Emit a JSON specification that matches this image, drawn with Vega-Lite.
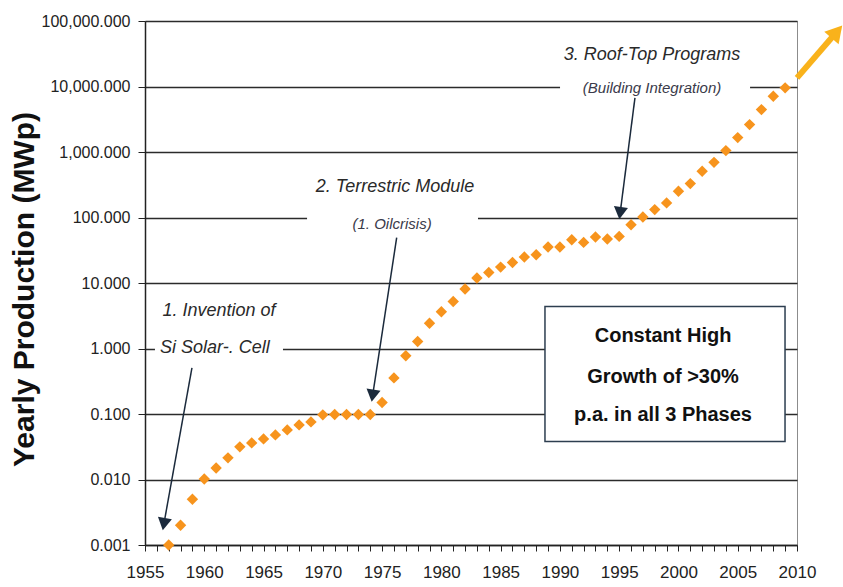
{
  "$schema": "https://vega.github.io/schema/vega-lite/v6.json",
  "width": 652,
  "height": 524,
  "autosize": "none",
  "padding": {"left": 145, "top": 21, "right": 46, "bottom": 42},
  "background": "white",
  "config": {
    "font": "Liberation Sans",
    "view": {"stroke": "#8c8c8c", "strokeWidth": 1}
  },
  "datasets": {
    "pv": [
      {"year": 1957, "mwp": 0.001}, {"year": 1958, "mwp": 0.002}, {"year": 1959, "mwp": 0.005},
      {"year": 1960, "mwp": 0.0102}, {"year": 1961, "mwp": 0.015}, {"year": 1962, "mwp": 0.0214},
      {"year": 1963, "mwp": 0.0315}, {"year": 1964, "mwp": 0.0362}, {"year": 1965, "mwp": 0.0417},
      {"year": 1966, "mwp": 0.048}, {"year": 1967, "mwp": 0.0572}, {"year": 1968, "mwp": 0.0682},
      {"year": 1969, "mwp": 0.0758}, {"year": 1970, "mwp": 0.097}, {"year": 1971, "mwp": 0.098},
      {"year": 1972, "mwp": 0.098}, {"year": 1973, "mwp": 0.098}, {"year": 1974, "mwp": 0.098},
      {"year": 1975, "mwp": 0.15}, {"year": 1976, "mwp": 0.356}, {"year": 1977, "mwp": 0.773},
      {"year": 1978, "mwp": 1.28}, {"year": 1979, "mwp": 2.43}, {"year": 1980, "mwp": 3.64},
      {"year": 1981, "mwp": 5.23}, {"year": 1982, "mwp": 8.09}, {"year": 1983, "mwp": 11.9},
      {"year": 1984, "mwp": 14.5}, {"year": 1985, "mwp": 17.5}, {"year": 1986, "mwp": 20.6},
      {"year": 1987, "mwp": 24.9}, {"year": 1988, "mwp": 27.0}, {"year": 1989, "mwp": 35.5},
      {"year": 1990, "mwp": 35.5}, {"year": 1991, "mwp": 45.8}, {"year": 1992, "mwp": 41.7},
      {"year": 1993, "mwp": 50.4}, {"year": 1994, "mwp": 47.0}, {"year": 1995, "mwp": 51.5},
      {"year": 1996, "mwp": 77.7}, {"year": 1997, "mwp": 102}, {"year": 1998, "mwp": 132},
      {"year": 1999, "mwp": 167}, {"year": 2000, "mwp": 251}, {"year": 2001, "mwp": 329},
      {"year": 2002, "mwp": 507}, {"year": 2003, "mwp": 695}, {"year": 2004, "mwp": 1050},
      {"year": 2005, "mwp": 1660}, {"year": 2006, "mwp": 2620}, {"year": 2007, "mwp": 4440},
      {"year": 2008, "mwp": 7100}, {"year": 2009, "mwp": 9530}
    ],
    "blanks": [
      {"x1": 1955.84, "x2": 1966.64, "y1": 0.626, "y2": 6.61},
      {"x1": 1968.67, "x2": 1983.09, "y1": 45.8, "y2": 537.9},
      {"x1": 1990.01, "x2": 2006.04, "y1": 5300, "y2": 69100}
    ],
    "frame": [
      {"x1": 1988.74, "x2": 2008.99, "y1": 0.0379, "y2": 4.38}
    ],
    "arrows": [
      {"id": "a1", "x1": 1958.96, "y1": 0.507, "x2": 1956.59, "y2": 0.002085},
      {"id": "a2", "x1": 1976.23, "y1": 49.2, "x2": 1974.20, "y2": 0.1905},
      {"id": "a3", "x1": 1996.33, "y1": 6700, "x2": 1995.08, "y2": 116.8},
      {"id": "g", "x1": 2010, "y1": 13550, "x2": 2013.36, "y2": 68400}
    ],
    "notes": [
      {"grp": "big", "x": 1961.24, "y": 3.77, "text": "1. Invention of"},
      {"grp": "big", "x": 1960.9, "y": 1.02, "text": "Si Solar-. Cell"},
      {"grp": "big", "x": 1976.09, "y": 296, "text": "2. Terrestric Module"},
      {"grp": "small", "x": 1975.84, "y": 80.4, "text": "(1. Oilcrisis)"},
      {"grp": "big", "x": 1997.77, "y": 30760, "text": "3. Roof-Top Programs"},
      {"grp": "small", "x": 1997.77, "y": 9634, "text": "(Building Integration)"},
      {"grp": "box", "x": 1998.7, "y": 1.525, "text": "Constant High"},
      {"grp": "box", "x": 1998.7, "y": 0.373, "text": "Growth of >30%"},
      {"grp": "box", "x": 1998.7, "y": 0.097, "text": "p.a. in all 3 Phases"}
    ]
  },
  "layer": [
    {
      "data": {"name": "pv"},
      "mark": {"type": "point", "shape": "diamond", "filled": true, "color": "#F7941D", "size": 0, "opacity": 0},
      "encoding": {
        "x": {
          "field": "year", "type": "quantitative", "title": null,
          "scale": {"domain": [1955, 2010], "nice": false, "zero": false},
          "axis": {
            "title": null,
            "values": [1955,1956,1957,1958,1959,1960,1961,1962,1963,1964,1965,1966,1967,1968,1969,1970,1971,1972,1973,1974,1975,1976,1977,1978,1979,1980,1981,1982,1983,1984,1985,1986,1987,1988,1989,1990,1991,1992,1993,1994,1995,1996,1997,1998,1999,2000,2001,2002,2003,2004,2005,2006,2007,2008,2009,2010],
            "tickCount": 100,
            "format": "d",
            "labelExpr": "datum.value % 5 === 0 ? datum.label : ''",
            "labelFlush": false,
            "labelBound": false,
            "labelOverlap": false,
            "labelDx": 6,
            "labelPadding": 13,
            "labelFontSize": 17,
            "labelColor": "#222222",
            "grid": false,
            "tickSize": 6,
            "tickColor": "#222222",
            "tickWidth": 1,
            "domainColor": "#222222",
            "domainWidth": 1.5
          }
        },
        "y": {
          "field": "mwp", "type": "quantitative", "title": "Yearly Production (MWp)",
          "scale": {"type": "log", "domain": [0.001, 100000], "nice": false},
          "axis": {
            "title": "Yearly Production (MWp)",
            "values": [0.001, 0.01, 0.1, 1, 10, 100, 1000, 10000, 100000],
            "tickCount": 20,
            "format": ",.3f",
            "grid": true,
            "gridColor": "#2b2b2b",
            "gridWidth": 1.5,
            "gridOpacity": 1,
            "tickSize": 7,
            "tickColor": "#222222",
            "domainColor": "#222222",
            "domainWidth": 1.5,
            "labelFontSize": 16,
            "labelColor": "#222222",
            "labelPadding": 8,
            "titleFontSize": 30,
            "titleFontWeight": "bold",
            "titleColor": "#111111",
            "titleAngle": -90,
            "titleAlign": "center",
            "titleBaseline": "middle",
            "titleX": -121,
            "titleY": 268
          }
        }
      }
    },
    {
      "data": {"name": "blanks"},
      "mark": {"type": "rect", "fill": "white", "strokeWidth": 0},
      "encoding": {
        "x": {"field": "x1", "type": "quantitative", "title": null},
        "x2": {"field": "x2", "title": null},
        "y": {"field": "y1", "type": "quantitative", "title": "Yearly Production (MWp)"},
        "y2": {"field": "y2", "title": "Yearly Production (MWp)"}
      }
    },
    {
      "data": {"name": "pv"},
      "mark": {"type": "point", "shape": "diamond", "filled": true, "color": "#F7941D", "size": 130, "opacity": 1},
      "encoding": {
        "x": {"field": "year", "type": "quantitative", "title": null},
        "y": {"field": "mwp", "type": "quantitative", "title": "Yearly Production (MWp)"}
      }
    },
    {
      "data": {"name": "arrows"},
      "transform": [{"filter": "datum.id !== 'g'"}],
      "mark": {"type": "rule", "color": "#1b2a3c", "strokeWidth": 1.5},
      "encoding": {
        "x": {"field": "x1", "type": "quantitative", "title": null},
        "x2": {"field": "x2", "title": null},
        "y": {"field": "y1", "type": "quantitative", "title": "Yearly Production (MWp)"},
        "y2": {"field": "y2", "title": "Yearly Production (MWp)"}
      }
    },
    {
      "data": {"name": "arrows"},
      "transform": [{"filter": "datum.id === 'a1'"}],
      "mark": {"type": "point", "shape": "triangle-up", "filled": true, "color": "#1b2a3c", "size": 200, "opacity": 1, "angle": 190},
      "encoding": {
        "x": {"field": "x2", "type": "quantitative", "title": null},
        "y": {"field": "y2", "type": "quantitative", "title": "Yearly Production (MWp)"}
      }
    },
    {
      "data": {"name": "arrows"},
      "transform": [{"filter": "datum.id === 'a2'"}],
      "mark": {"type": "point", "shape": "triangle-up", "filled": true, "color": "#1b2a3c", "size": 200, "opacity": 1, "angle": 188.7},
      "encoding": {
        "x": {"field": "x2", "type": "quantitative", "title": null},
        "y": {"field": "y2", "type": "quantitative", "title": "Yearly Production (MWp)"}
      }
    },
    {
      "data": {"name": "arrows"},
      "transform": [{"filter": "datum.id === 'a3'"}],
      "mark": {"type": "point", "shape": "triangle-up", "filled": true, "color": "#1b2a3c", "size": 200, "opacity": 1, "angle": 187.4},
      "encoding": {
        "x": {"field": "x2", "type": "quantitative", "title": null},
        "y": {"field": "y2", "type": "quantitative", "title": "Yearly Production (MWp)"}
      }
    },
    {
      "data": {"name": "arrows"},
      "transform": [{"filter": "datum.id === 'g'"}],
      "mark": {"type": "rule", "color": "#F9B21B", "strokeWidth": 6},
      "encoding": {
        "x": {"field": "x1", "type": "quantitative", "title": null},
        "x2": {"field": "x2", "title": null},
        "y": {"field": "y1", "type": "quantitative", "title": "Yearly Production (MWp)"},
        "y2": {"field": "y2", "title": "Yearly Production (MWp)"}
      }
    },
    {
      "data": {"name": "arrows"},
      "transform": [{"filter": "datum.id === 'g'"}],
      "mark": {"type": "point", "shape": "triangle-up", "filled": true, "color": "#F9B21B", "size": 360, "opacity": 1, "angle": 41},
      "encoding": {
        "x": {"field": "x2", "type": "quantitative", "title": null},
        "y": {"field": "y2", "type": "quantitative", "title": "Yearly Production (MWp)"}
      }
    },
    {
      "data": {"name": "frame"},
      "mark": {"type": "rect", "fill": "white", "stroke": "#2d3e50", "strokeWidth": 1.5},
      "encoding": {
        "x": {"field": "x1", "type": "quantitative", "title": null},
        "x2": {"field": "x2", "title": null},
        "y": {"field": "y1", "type": "quantitative", "title": "Yearly Production (MWp)"},
        "y2": {"field": "y2", "title": "Yearly Production (MWp)"}
      }
    },
    {
      "data": {"name": "notes"},
      "transform": [{"filter": "datum.grp === 'big'"}],
      "mark": {"type": "text", "fontStyle": "italic", "fontSize": 18, "color": "#2a2a2a", "align": "center", "baseline": "middle"},
      "encoding": {
        "x": {"field": "x", "type": "quantitative", "title": null},
        "y": {"field": "y", "type": "quantitative", "title": "Yearly Production (MWp)"},
        "text": {"field": "text"}
      }
    },
    {
      "data": {"name": "notes"},
      "transform": [{"filter": "datum.grp === 'small'"}],
      "mark": {"type": "text", "fontStyle": "italic", "fontSize": 15, "color": "#3a3a4a", "align": "center", "baseline": "middle"},
      "encoding": {
        "x": {"field": "x", "type": "quantitative", "title": null},
        "y": {"field": "y", "type": "quantitative", "title": "Yearly Production (MWp)"},
        "text": {"field": "text"}
      }
    },
    {
      "data": {"name": "notes"},
      "transform": [{"filter": "datum.grp === 'box'"}],
      "mark": {"type": "text", "fontWeight": "bold", "fontSize": 20, "color": "#111111", "align": "center", "baseline": "middle"},
      "encoding": {
        "x": {"field": "x", "type": "quantitative", "title": null},
        "y": {"field": "y", "type": "quantitative", "title": "Yearly Production (MWp)"},
        "text": {"field": "text"}
      }
    }
  ]
}
